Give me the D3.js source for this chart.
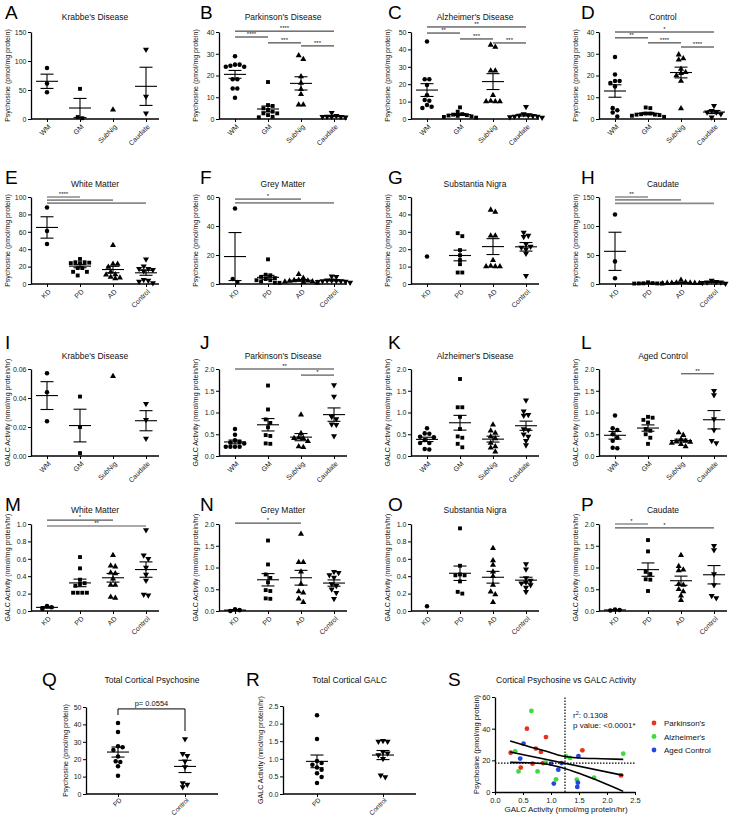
<!DOCTYPE html>
<html><head><meta charset="utf-8">
<script src="https://cdn.jsdelivr.net/npm/d3@7"></script>
<style>
body{margin:0;background:#fff}
svg text{font-family:"Liberation Sans",Arial,sans-serif;fill:#111}
.tick text{font-size:7px;fill:#222}
.tick line{stroke:#000;stroke-width:1}
.domain{stroke:#000;stroke-width:1.3}
.letter{font-size:19px;fill:#000}
.title{font-size:8.5px}
.ylab{font-size:7px}
.xlab{font-size:7px;fill:#222}
</style>
</head><body><svg id="c" width="736" height="817"></svg>
<script>
// ---------- categories ----------
const regionCats = ["WM","GM","SubNig","Caudate"];
const diseaseCats = ["KD","PD","AD","Control"];
const twoCats = ["PD","Control"];

// ---------- titles ----------
const psyTitlesTop = ["Krabbe's Disease","Parkinson's Disease","Alzheimer's Disease","Control"];
const regionTitles = ["White Matter","Grey Matter","Substantia Nigra","Caudate"];
const galcTitlesTop = ["Krabbe's Disease","Parkinson's Disease","Alzheimer's Disease","Aged Control"];
const lettersRow1 = ["A","B","C","D"], lettersRow2 = ["E","F","G","H"],
      lettersRow3 = ["I","J","K","L"], lettersRow4 = ["M","N","O","P"];
const psyLabel = "Psychosine (pmol/mg protein)";
const galcLabel = "GALC Activity (nmol/mg protein/hr)";

// ---------- psychosine (pmol/mg protein): [WM, GM, SubNig, Caudate] ----------
const psyKD   = [[88,61,46],[52,3.4,1.4],[15.8],[120,39,10]];
const psyPD   = [[28.8,25,24.5,24,24,25,18.3,18.3,14,14,9.8],
                 [17,6,6.4,4.9,4.1,2.6,1.8,2.6,3.4,0.8,1],
                 [29.2,27.5,19.5,16.5,13.7,11.4,6.6,6.6],
                 [2.9,1,1,1,0.8,1.2,1.5]];
const psyAD   = [[44.5,22.9,22.9,19.5,13.7,10.9,10.5,8.0,6.3,7.1],
                 [6.7,4.2,2.5,2,2.2,1.8,1.5,2.8,1.2,0.8],
                 [42.6,41.4,27.7,27.7,13.7,10,10,10,10.4],
                 [7,2.9,1.5,1.8,2,1.2,0.8,1.5,2.2]];
const psyCtrl = [[28.5,20.5,17.5,17.5,16.5,15,5,4,3,1.2],
                 [5.3,5,2,2,1.8,2.2,2.5,2.5,1,1.5],
                 [29.6,27.8,27.2,23,21.5,20,21,17.5,4.8],
                 [6.1,3.8,3.1,2.3,0.8,3.1]];

// ---------- GALC activity (nmol/mg protein/hr): [WM, GM, SubNig, Caudate] ----------
const galcKD   = [[0.057,0.044,0.024],[0.041,0.020,0.002],[0.055],[0.036,0.025,0.012]];
const galcPD   = [[0.62,0.49,0.36,0.32,0.31,0.29,0.21,0.21,0.21,0.21],
                  [1.62,1.07,0.84,0.76,0.66,0.48,0.46,0.28,0.29],
                  [0.95,0.52,0.42,0.41,0.41,0.34,0.22,0.2],
                  [1.63,1.37,0.9,0.85,0.73,0.72,0.46]];
const galcAD   = [[0.64,0.52,0.51,0.44,0.43,0.37,0.3,0.3,0.16,0.15],
                  [1.77,1.12,1.12,0.9,0.62,0.45,0.42,0.28,0.2],
                  [0.72,0.58,0.53,0.45,0.4,0.3,0.22,0.19,0.1],
                  [1.28,1.03,0.95,0.93,0.62,0.6,0.5,0.45,0.35,0.25]];
const galcCtrl = [[0.93,0.64,0.6,0.5,0.42,0.35,0.19,0.18],
                  [0.9,0.88,0.83,0.77,0.62,0.58,0.5,0.42,0.28],
                  [0.54,0.48,0.38,0.35,0.33,0.32,0.3,0.27,0.22],
                  [1.5,1.4,0.85,0.6,0.35,0.3]];

// ---------- total cortical ----------
const qPD   = [40.8,35.6,27.5,26.8,25.3,21.5,18.4,18.8,15.9,10.5];
const qCtrl = [31.6,23.2,22,18.8,15.5,6.3,5.4,4];
const rPD   = [2.24,1.56,0.94,0.88,0.83,0.75,0.69,0.59,0.48,0.31];
const rCtrl = [1.49,1.49,1.51,1.11,1.19,1.16,1.0,0.48,0.53];
const qPLabel = "p= 0.0554";
const qBracketY = [48.9,45.4,36.2];

// ---------- tick values ----------
const psyTicksTop = [[0,50,100,150],[0,10,20,30,40],[0,10,20,30,40,50],[0,10,20,30,40]];
const psyTicksMid = [[0,20,40,60,80,100],[0,20,40,60],[0,10,20,30,40,50],[0,50,100,150]];
const galcTicksTop = [[0,0.02,0.04,0.06],[0,0.5,1,1.5,2],[0,0.5,1,1.5,2],[0,0.5,1,1.5,2]];
const galcTicksMid = [[0,0.2,0.4,0.6,0.8,1],[0,0.5,1,1.5,2],[0,0.2,0.4,0.6,0.8,1],[0,0.5,1,1.5,2]];
const qTicks = [0,10,20,30,40,50];
const rTicks = [0,0.5,1,1.5,2,2.5];

// ---------- significance brackets: [fromIdx, toIdx, yValue, label] ----------
const bracketsRow1 = [[],
  [[0,3,40.4,"****"],[0,1,37.7,"****"],[1,2,35,"***"],[2,3,33.6,"***"]],
  [[0,3,52.9,"**"],[0,1,49.4,"**"],[1,2,46,"***"],[2,3,43.7,"***"]],
  [[0,3,40,"*"],[0,1,37.3,"**"],[1,2,35,"****"],[2,3,33.1,"****"]]];
const bracketsRow2 = [
  [[0,1,100,"****"],[0,2,96.5,""],[0,3,93,""]],
  [[0,2,58.6,"*"],[0,3,55.9,""]],
  [],
  [[0,1,150,"**"],[0,2,145,""],[0,3,139,""]]];
const bracketsRow3 = [[],[[0,3,2.0,"**"],[2,3,1.86,"*"]],[],[[2,3,1.89,"**"]]];
const bracketsRow4 = [[[0,2,1.045,"*"],[0,3,0.977,"**"]],[[0,2,2.02,"*"]],[],[[0,1,2.0,"*"],[0,3,1.91,"*"]]];

// ---------- scatter S ----------
const sLegend = ["Parkinson's","Alzheimer's","Aged Control"];
const sPDx = [0.28,0.57,0.46,0.67,0.73,0.82,0.86,0.91,1.56,2.25];
const sPDy = [24.8,40,15.4,17.9,27.4,25.3,18.3,34.7,26.3,10.5];
const sADx = [0.36,0.42,0.65,0.76,1.09,1.27,1.34,1.46,1.77,2.29,0.9];
const sADy = [25.7,13,51.2,13,8,22.5,21.5,7.8,9.1,24.2,18.6];
const sCtrlx = [0.51,0.45,1.0,1.05,1.13,1.19,1.49,1.48,1.47];
const sCtrly = [30.5,21.1,17.9,5.3,14.1,18.3,22.7,5.9,3.2];
const sFitX = [0.27,2.29], sFitY = [25.3,10.5];
const sBandX = [0.27,0.6,0.9,1.2,1.5,1.9,2.29];
const sUpperY = [32.2,28.8,25.9,22.7,21.5,21,20.6];
const sLowerY = [18.7,18.5,17.7,15.3,11.8,6.3,0.4];
const sCutX = 1.25, sCutY = 18.3;
const sXTicks = [0,0.5,1,1.5,2,2.5], sYTicks = [0,20,40,60];
const sStats = ["r", "2", ": 0.1308", "p value: <0.0001*"];

// =================== drawing ===================
const svg = d3.select("#c");
const colX = [31,219,411,599];
const letterX = [5,200,388,581];
const rows = [
  {top:32,bot:119,title:20,letter:19},
  {top:197,bot:284,title:187,letter:184},
  {top:369,bot:456,title:359,letter:349},
  {top:524,bot:611,title:513,letter:511}];
const PW = 128;
const shapes = [d3.symbolCircle,d3.symbolSquare,d3.symbolTriangle,d3.symbolTriangle];
const shapeSize = [16,15,16,16];

function swarm(pys, s, h){
  const n = pys.length;
  const order = pys.map((p,i)=>i).sort((a,b)=>pys[a]-pys[b]);
  const off = new Array(n).fill(0), placed=[];
  order.forEach(i=>{
    const cands=[0];
    for(let k=1;k<20;k++){cands.push(k*s/2,-k*s/2);}
    for(const c of cands){
      if(placed.every(j=>Math.abs(pys[j]-pys[i])>=h || Math.abs(off[j]-c)>=s)){off[i]=c;break;}
    }
    placed.push(i);
  });
  const comp = new Array(n).fill(-1); let cid=0;
  for(let i=0;i<n;i++){ if(comp[i]>=0) continue;
    const stack=[i]; comp[i]=cid;
    while(stack.length){const a=stack.pop();
      for(let j=0;j<n;j++) if(comp[j]<0 && Math.abs(pys[j]-pys[a])<h){comp[j]=cid;stack.push(j);}}
    cid++; }
  for(let c=0;c<cid;c++){
    const idx = d3.range(n).filter(i=>comp[i]===c);
    const mid = (d3.min(idx,i=>off[i])+d3.max(idx,i=>off[i]))/2;
    idx.forEach(i=>off[i]-=mid);
  }
  return off;
}

function panel(o){
  const g = svg.append("g");
  const x = d3.scalePoint().domain(o.cats).range(o.xr);
  const y = d3.scaleLinear().domain([0,o.ticks[o.ticks.length-1]]).range([o.bot,o.top]);
  svg.append("text").attr("class","letter").attr("x",o.lx).attr("y",o.ly).text(o.letter);
  g.append("text").attr("class","title").attr("x",(o.ax+o.xEnd)/2).attr("y",o.ty)
    .attr("text-anchor","middle").text(o.title);
  g.append("g").attr("transform",`translate(${o.ax},0)`)
    .call(d3.axisLeft(y).tickValues(o.ticks).tickFormat(d3.format(o.fmt)).tickSize(3).tickSizeOuter(0))
    .selectAll(".tick text").attr("x",-4.5);
  const xa = g.append("g").attr("transform",`translate(0,${o.bot})`)
    .call(d3.axisBottom(x).tickSize(3).tickSizeOuter(0).tickFormat(""));
  xa.select(".domain").remove();
  xa.selectAll(".tick text").remove();
  const xlOff = o.xlOff || 6.5;
  o.cats.forEach(c=>{
    g.append("text").attr("class","xlab")
      .attr("transform",`translate(${x(c)+2.5},${o.bot+xlOff}) rotate(-45)`)
      .attr("text-anchor","end").attr("dy","0.35em")
      .style("font-size",o.xlSize?o.xlSize+"px":null).text(c);
  });
  g.append("line").attr("x1",o.ax).attr("x2",o.xEnd).attr("y1",o.bot).attr("y2",o.bot)
    .attr("stroke","#000").attr("stroke-width",1.3);
  g.append("text").attr("class","ylab")
    .attr("transform",`translate(${o.ax-o.ylOff},${(o.top+o.bot)/2}) rotate(-90)`)
    .attr("text-anchor","middle").text(o.ylabel);
  o.groups.forEach((vals,i)=>{
    const cx = x(o.cats[i]);
    const pys = vals.map(v=>y(v));
    const off = swarm(pys,4.6,4);
    const si = o.shapeIdx[i];
    const sym = d3.symbol().type(shapes[si]).size(shapeSize[si]);
    vals.forEach((v,k)=>{
      g.append("path").attr("d",sym)
        .attr("transform",`translate(${cx+off[k]},${pys[k]})${si===3?" rotate(180)":""}`)
        .attr("fill","#000");
    });
    if(vals.length>1){
      const m = d3.mean(vals), se = d3.deviation(vals)/Math.sqrt(vals.length);
      const lw = 1.1;
      g.append("line").attr("x1",cx-11).attr("x2",cx+11).attr("y1",y(m)).attr("y2",y(m)).attr("stroke","#000").attr("stroke-width",lw);
      g.append("line").attr("x1",cx).attr("x2",cx).attr("y1",y(Math.max(0,m-se))).attr("y2",y(m+se)).attr("stroke","#000").attr("stroke-width",lw);
      [m-se,m+se].forEach(e=>{ if(e>=0)
        g.append("line").attr("x1",cx-6.5).attr("x2",cx+6.5).attr("y1",y(e)).attr("y2",y(e)).attr("stroke","#000").attr("stroke-width",lw);});
    }
  });
  (o.brackets||[]).forEach(b=>{
    const x1=x(o.cats[b[0]]), x2=x(o.cats[b[1]]), yy=y(b[2]);
    g.append("line").attr("x1",x1).attr("x2",x2).attr("y1",yy).attr("y2",yy)
      .attr("stroke",o.bColor).attr("stroke-width",o.bWidth);
    if(b[3]) g.append("text").attr("x",(x1+x2)/2).attr("y",yy-1.2).attr("text-anchor","middle")
      .attr("font-size",6).text(b[3]);
  });
  return {x,y,g};
}

const rowSpecs = [
  {letters:lettersRow1,titles:psyTitlesTop,cats:regionCats,groups:c=>[psyKD,psyPD,psyAD,psyCtrl][c],ticks:psyTicksTop,fmt:"d",ylabel:psyLabel,br:bracketsRow1,bColor:"#222",bWidth:1},
  {letters:lettersRow2,titles:regionTitles,cats:diseaseCats,groups:c=>[psyKD[c],psyPD[c],psyAD[c],psyCtrl[c]],ticks:psyTicksMid,fmt:"d",ylabel:psyLabel,br:bracketsRow2,bColor:"#8a8a8a",bWidth:1.7},
  {letters:lettersRow3,titles:galcTitlesTop,cats:regionCats,groups:c=>[galcKD,galcPD,galcAD,galcCtrl][c],ticks:galcTicksTop,fmt:null,ylabel:galcLabel,br:bracketsRow3,bColor:"#333",bWidth:1},
  {letters:lettersRow4,titles:regionTitles,cats:diseaseCats,groups:c=>[galcKD[c],galcPD[c],galcAD[c],galcCtrl[c]],ticks:galcTicksMid,fmt:".1f",ylabel:galcLabel,br:bracketsRow4,bColor:"#555",bWidth:1.1}
];
rowSpecs.forEach((rs,r)=>{
  for(let c=0;c<4;c++){
    const ax = colX[c];
    panel({letter:rs.letters[c],lx:letterX[c],ly:rows[r].letter,title:rs.titles[c],ty:rows[r].title,
      ax, xEnd:ax+PW, xr:[ax+16,ax+115], top:rows[r].top, bot:rows[r].bot, cats:rs.cats,
      groups:rs.groups(c), shapeIdx:[0,1,2,3], ticks:rs.ticks[c],
      fmt: rs.fmt || (c===0?".2f":".1f"), ylabel:rs.ylabel, ylOff:21,
      brackets:rs.br[c], bColor:rs.bColor, bWidth:rs.bWidth});
  }
});

// Q
const Q = panel({letter:"Q",lx:42,ly:686,title:"Total Cortical Psychosine",ty:683,ax:86,xEnd:218,xr:[118,185],
  top:707,bot:794,cats:twoCats,groups:[qPD,qCtrl],shapeIdx:[0,3],ticks:qTicks,fmt:"d",ylabel:psyLabel,ylOff:18,
  brackets:[],xlOff:5,xlSize:6.6});
{
  const x1=Q.x("PD"), x2=Q.x("Control"), yb=Q.y(qBracketY[0]);
  Q.g.append("path").attr("d",`M${x1},${Q.y(qBracketY[1])}V${yb}H${x2}V${Q.y(qBracketY[2])}`)
    .attr("fill","none").attr("stroke","#000").attr("stroke-width",1);
  Q.g.append("text").attr("x",(x1+x2)/2).attr("y",yb-3).attr("text-anchor","middle").attr("font-size",7.5).text(qPLabel);
}
// R
panel({letter:"R",lx:246,ly:686,title:"Total Cortical GALC",ty:683,ax:283,xEnd:416,xr:[317,383],
  top:706,bot:794,cats:twoCats,groups:[rPD,rCtrl],shapeIdx:[0,3],ticks:rTicks,fmt:".1f",ylabel:galcLabel,ylOff:20,
  brackets:[],xlOff:5,xlSize:6.6});

// S
{
  const g = svg.append("g");
  const sx = d3.scaleLinear().domain([0,2.5]).range([495,635]);
  const sy = d3.scaleLinear().domain([0,60]).range([792,697]);
  svg.append("text").attr("class","letter").attr("x",448).attr("y",686).text("S");
  g.append("text").attr("class","title").attr("x",566).attr("y",683).attr("text-anchor","middle")
    .text("Cortical Psychosine vs GALC Activity");
  g.append("g").attr("transform","translate(495,0)")
    .call(d3.axisLeft(sy).tickValues(sYTicks).tickFormat(d3.format("d")).tickSize(3).tickSizeOuter(0))
    .selectAll(".tick text").attr("x",-4.5).style("font-size","7.5px");
  g.append("g").attr("transform","translate(0,792)")
    .call(d3.axisBottom(sx).tickValues(sXTicks).tickFormat(d3.format(".1f")).tickSize(3).tickSizeOuter(0))
    .selectAll(".tick text").style("font-size","7.5px");
  g.append("text").attr("x",566).attr("y",812).attr("text-anchor","middle").attr("font-size",8).text(galcLabel);
  g.append("text").attr("transform","translate(479,744.5) rotate(-90)").attr("text-anchor","middle")
    .attr("font-size",7.5).text(psyLabel);
  const sets = [[sPDx,sPDy,"#e8321e"],[sADx,sADy,"#3ddc3a"],[sCtrlx,sCtrly,"#2445e0"]];
  sets.forEach(([xs,ys,col])=>{
    xs.forEach((v,i)=>g.append("circle").attr("cx",sx(v)).attr("cy",sy(ys[i])).attr("r",2.4).attr("fill",col));
  });
  const ln = d3.line().x(d=>sx(d[0])).y(d=>sy(d[1])).curve(d3.curveMonotoneX);
  g.append("path").attr("d",ln(sFitX.map((v,i)=>[v,sFitY[i]]))).attr("fill","none").attr("stroke","#000").attr("stroke-width",1.6);
  g.append("path").attr("d",ln(sBandX.map((v,i)=>[v,sUpperY[i]]))).attr("fill","none").attr("stroke","#000").attr("stroke-width",1.6);
  g.append("path").attr("d",ln(sBandX.map((v,i)=>[v,sLowerY[i]]))).attr("fill","none").attr("stroke","#000").attr("stroke-width",1.6);
  g.append("line").attr("x1",sx(sCutX)).attr("x2",sx(sCutX)).attr("y1",sy(0)).attr("y2",sy(60))
    .attr("stroke","#000").attr("stroke-width",1.2).attr("stroke-dasharray","1.5,1.5");
  g.append("line").attr("x1",sx(0)).attr("x2",sx(2.5)).attr("y1",sy(sCutY)).attr("y2",sy(sCutY))
    .attr("stroke","#000").attr("stroke-width",1.2).attr("stroke-dasharray","1.5,1.5");
  const t1 = g.append("text").attr("x",573).attr("y",718).attr("font-size",8);
  t1.append("tspan").text(sStats[0]);
  t1.append("tspan").attr("dy",-3).attr("font-size",5.5).text(sStats[1]);
  t1.append("tspan").attr("dy",3).text(sStats[2]);
  g.append("text").attr("x",573).attr("y",728).attr("font-size",8).text(sStats[3]);
  sLegend.forEach((t,i)=>{
    g.append("circle").attr("cx",654).attr("cy",723+i*13.5).attr("r",2.4).attr("fill",sets[i][2]);
    g.append("text").attr("x",664).attr("y",726+i*13.5).attr("font-size",8).text(t);
  });
}
</script></body></html>
